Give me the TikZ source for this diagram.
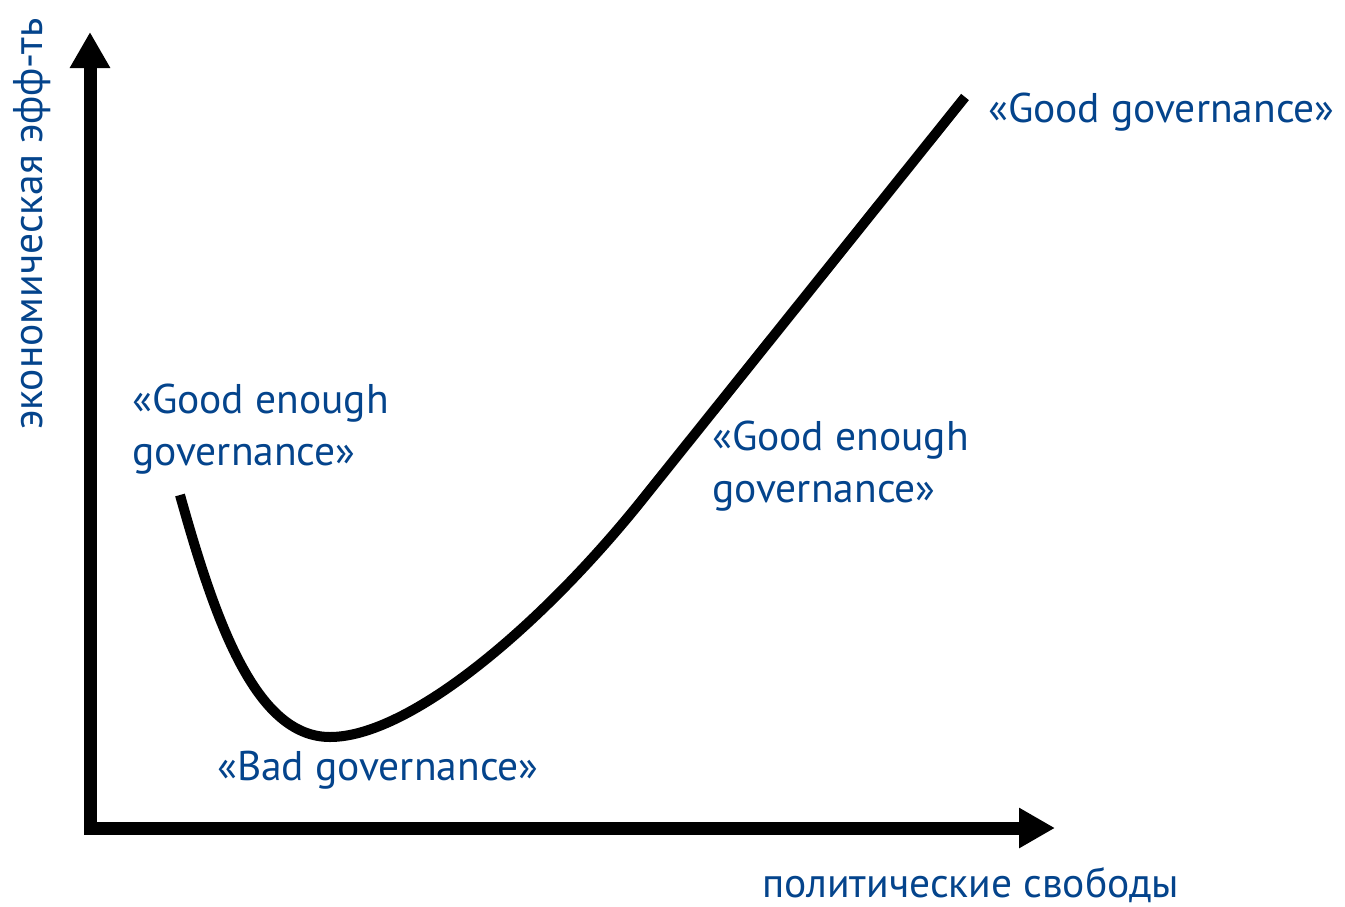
\documentclass[tikz,border=0pt]{standalone}
\usepackage{fontspec}
\setmainfont{PT Sans}
\usetikzlibrary{arrows.meta}
\definecolor{labelblue}{RGB}{4,68,140}
\tikzset{
  axis/.style={line width=13pt, line join=miter, {Triangle[width=38pt,length=36pt]}-{Triangle[width=38pt,length=36pt]}},
  curveline/.style={line width=10pt, line cap=butt, line join=round},
  lbl/.style={text=labelblue, font=\fontsize{41.5pt}{52pt}\selectfont, inner sep=0pt, anchor=base west, align=left},
}
\begin{document}
\begin{tikzpicture}[x=1pt,y=-1pt]
\useasboundingbox (0,0) rectangle (1345,906);
\fill[white] (0,0) rectangle (1345,906);
\coordinate (ytip) at (90,32);
\coordinate (origin) at (90,828);
\coordinate (xtip) at (1055,828);
\draw[axis] (ytip) -- (origin) -- (xtip);
\coordinate (cstart) at (180,495);
\coordinate (cmin) at (330,737);
\coordinate (cbend) at (642,500);
\coordinate (cend) at (965,97);
\draw[curveline] (cstart) .. controls (215,620) and (255,737) .. (cmin)
  .. controls (410,737) and (542,624.8) .. (cbend) -- (cend);
\node[lbl] (gg) at (988,122) {«Good governance»};
\node[lbl] (gel) at (132,465) {«Good enough\\governance»};
\node[lbl] (ger) at (712,502) {«Good enough\\governance»};
\node[lbl] (bg) at (217,780) {«Bad governance»};
\node[lbl] (xl) at (762,897) {политические свободы};
\node[lbl, rotate=90] (yl) at (42,430) {экономическая эфф-ть};
\end{tikzpicture}
\end{document}
